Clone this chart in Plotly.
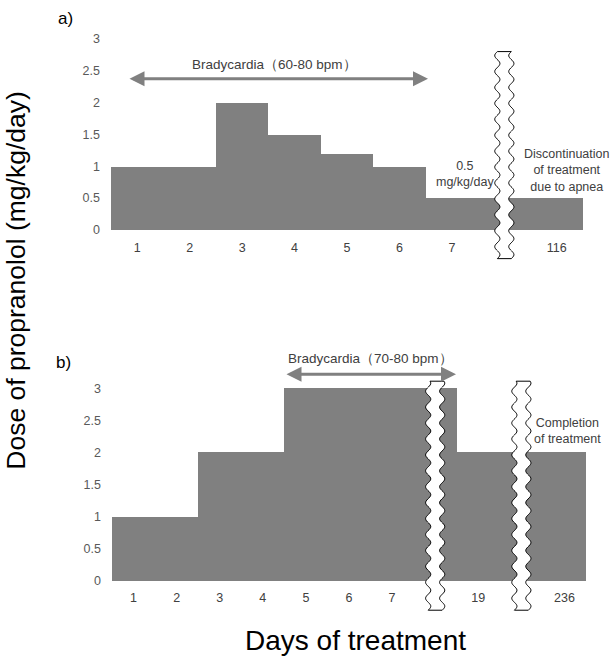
import numpy as np
import plotly.graph_objects as go

# ---------------- data ----------------
days_a = ["1", "2", "3", "4", "5", "6", "7", "", "116"]
dose_a = [1, 1, 2, 1.5, 1.2, 1, 0.5, 0.5, 0.5]
days_b = ["1", "2", "3", "4", "5", "6", "7", "", "19", "", "236"]
dose_b = [1, 1, 2, 2, 3, 3, 3, 3, 2, 2, 2]
ytick_vals = [0, 0.5, 1, 1.5, 2, 2.5, 3]
ytick_text = ["0", "0.5", "1", "1.5", "2", "2.5", "3"]
breaks_a = [7]          # index of the axis-break slot in panel a
breaks_b = [7, 9]       # indices of the axis-break slots in panel b

W, H = 614, 662
FONT = "Liberation Sans, Arial, sans-serif"
GRAY = "#808080"


def px(p):
    return p / W


def py(p):
    return (H - p) / H


fig = go.Figure()
fig.add_trace(go.Bar(x=list(range(len(days_a))), y=dose_a, width=1.0,
                     marker=dict(color=GRAY, line=dict(width=0)),
                     xaxis="x", yaxis="y", hoverinfo="skip", showlegend=False))
fig.add_trace(go.Bar(x=list(range(len(days_b))), y=dose_b, width=1.0,
                     marker=dict(color=GRAY, line=dict(width=0)),
                     xaxis="x2", yaxis="y2", hoverinfo="skip", showlegend=False))

common_x = dict(showgrid=False, zeroline=False, showline=False, ticks="",
                tickfont=dict(size=12.5, color="#404040", family=FONT),
                fixedrange=True)
common_y = dict(showgrid=False, zeroline=False, showline=False, ticks="",
                tickvals=ytick_vals, ticktext=ytick_text, ticklabelstandoff=10,
                tickfont=dict(size=12.5, color="#595959", family=FONT),
                fixedrange=True)

fig.update_layout(
    width=W, height=H,
    margin=dict(l=0, r=0, t=0, b=0),
    paper_bgcolor="white", plot_bgcolor="white",
    bargap=0,
    font=dict(family=FONT, color="#404040"),
    xaxis=dict(domain=[px(111), px(583)], range=[-0.5, 8.5],
               tickvals=list(range(len(days_a))), ticktext=days_a,
               anchor="free", position=py(237), **common_x),
    yaxis=dict(domain=[py(266.4), py(32.8)], range=[-0.6, 3.05],
               anchor="x", **common_y),
    xaxis2=dict(domain=[px(112), px(586)], range=[-0.5, 10.5],
                tickvals=list(range(len(days_b))), ticktext=days_b,
                anchor="free", position=py(588), **common_x),
    yaxis2=dict(domain=[py(618.6), py(348.4)], range=[-0.6, 3.6],
                anchor="x2", **common_y),
)


# ---------------- axis-break wavy marks ----------------
def wave_path(c, hw, amp, y0, y1, period, n=240):
    ys = np.linspace(y1, y0, n)
    left = [(c - hw + amp * np.sin(2 * np.pi * (y - y0) / period), y) for y in ys]
    ys2 = ys[::-1]
    right = [(c + hw + amp * np.sin(2 * np.pi * (y - y0) / period), y) for y in ys2]
    pts = left + right
    d = "M " + " L ".join(f"{x:.4f},{y:.4f}" for x, y in pts) + " Z"
    return d


shapes = []
sw_a = (583 - 111) / len(days_a)
for b in breaks_a:
    shapes.append(dict(type="path", xref="x", yref="y",
                       path=wave_path(b, 7 / sw_a, 2.6 / sw_a, -0.45, 2.8, 16 / 64),
                       fillcolor="white", line=dict(color="black", width=1)))
sw_b = (586 - 112) / len(days_b)
for b in breaks_b:
    shapes.append(dict(type="path", xref="x2", yref="y2",
                       path=wave_path(b, 7 / sw_b, 2.6 / sw_b, -0.466, 3.11, 16 / 64.33),
                       fillcolor="white", line=dict(color="black", width=1)))
fig.update_layout(shapes=shapes)

# ---------------- annotations ----------------
ann = []
# arrows
ann.append(dict(xref="x", yref="y", axref="x", ayref="y",
                x=5.545, y=2.375, ax=-0.176, ay=2.375, text="",
                showarrow=True, arrowhead=2, startarrowhead=2, arrowside="end+start",
                arrowwidth=3, arrowsize=1, startarrowsize=1, arrowcolor=GRAY))
ann.append(dict(xref="x2", yref="y2", axref="x2", ayref="y2",
                x=7.483, y=3.218, ax=3.515, ay=3.218, text="",
                showarrow=True, arrowhead=2, startarrowhead=2, arrowside="end+start",
                arrowwidth=3, arrowsize=1, startarrowsize=1, arrowcolor=GRAY))
# texts
C = dict(xanchor="center", yanchor="middle", showarrow=False)
txt = dict(font=dict(size=13.5, color="#404040", family=FONT), **C)
ann.append(dict(xref="x", yref="y", x=2.627, y=2.594, text="Bradycardia（60-80 bpm）", **txt))
ann.append(dict(xref="x2", yref="y2", x=5.51, y=3.466, text="Bradycardia（70-80 bpm）", **txt))
small = dict(font=dict(size=12.5, color="#404040", family=FONT), **C)
ann.append(dict(xref="x", yref="y", x=6.25, y=0.875, text="0.5<br>mg/kg/day", **small))
ann.append(dict(xref="x", yref="y", x=8.196, y=0.9375,
                text="Discontinuation<br>of treatment<br>due to apnea", **small))
ann.append(dict(xref="x2", yref="y2", x=10.06, y=2.33,
                text="Completion<br>of treatment", **small))
# panel labels
ann.append(dict(xref="paper", yref="paper", x=px(65), y=py(15.5), text="a)",
                font=dict(size=17, color="black", family=FONT), **C))
ann.append(dict(xref="paper", yref="paper", x=px(63), y=py(361), text="b)",
                font=dict(size=17, color="black", family=FONT), **C))
# axis titles
ann.append(dict(xref="paper", yref="paper", x=px(16), y=py(279), textangle=-90,
                text="Dose of propranolol (mg/kg/day)",
                font=dict(size=26.5, color="black", family=FONT), **C))
ann.append(dict(xref="paper", yref="paper", x=px(355), y=py(640),
                text="Days of treatment",
                font=dict(size=28, color="black", family=FONT), **C))
fig.update_layout(annotations=ann)

fig.write_html("out.html")
